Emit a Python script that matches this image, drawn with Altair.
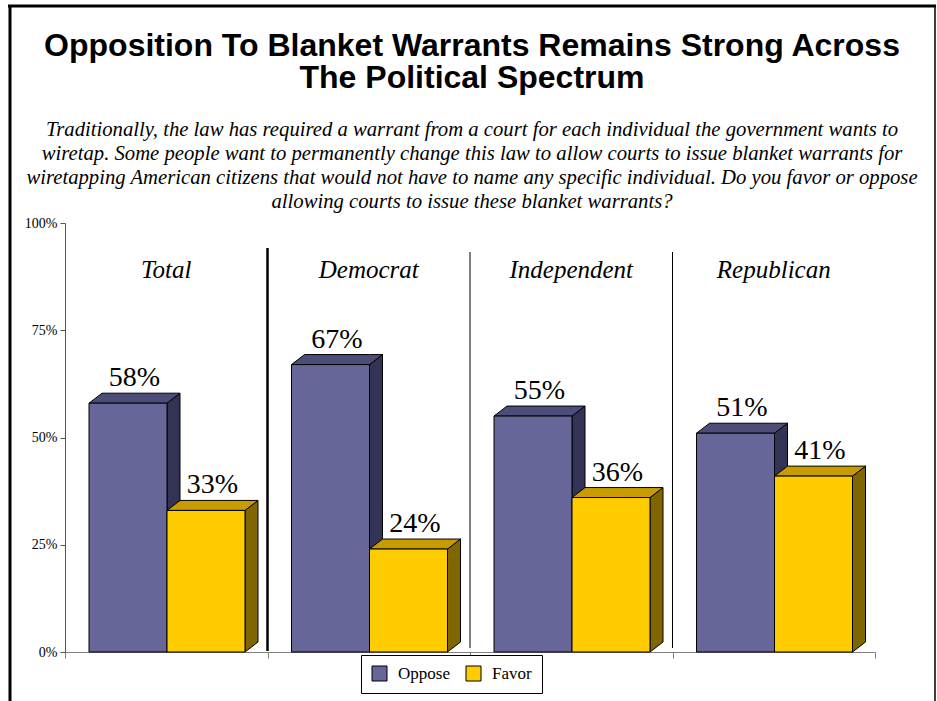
import altair as alt
import pandas as pd

# ---------------- data ----------------
groups = ["Total", "Democrat", "Independent", "Republican"]
oppose = [58, 67, 55, 51]
favor = [33, 24, 36, 41]
series = ["Oppose", "Favor"]
y_ticks = [0, 25, 50, 75, 100]
panel_edges = [0, 1, 2, 3, 4]

title_lines = [
    "Opposition To Blanket Warrants Remains Strong Across",
    "The Political Spectrum",
]
subtitle_lines = [
    "Traditionally, the law has required a warrant from a court for each individual the government wants to",
    "wiretap.  Some people want to permanently change this law to allow courts to issue blanket warrants for",
    "wiretapping American citizens that would not have to name any specific individual.  Do you favor or oppose",
    "allowing courts to issue these blanket warrants?",
]

# ---------------- geometry / style ----------------
W, H = 810, 429
UX = W / 4.0          # px per panel unit
UY = H / 100.0        # px per percent
BAR_OFF = 24 / UX
BAR_W = 78 / UX
DX = 13 / UX
DY = 10 / UY

front_col = {"Oppose": "#666699", "Favor": "#FFCC00"}
top_col = {"Oppose": "#4D4D7A", "Favor": "#C89B00"}
side_col = {"Oppose": "#333355", "Favor": "#806600"}

fronts, tops, sides, vlabels = [], [], [], []
for i, g in enumerate(groups):
    for j, (s, vals) in enumerate(zip(series, [oppose, favor])):
        v = vals[i]
        x0 = i + BAR_OFF + j * BAR_W
        x1 = x0 + BAR_W
        key = f"{g}-{s}"
        fronts.append(dict(group=g, series=s, x0=x0, x1=x1, v=v, zero=0))
        for x, lo, hi in [(x0, v, v), (x0 + DX, v, v + DY), (x1, v, v + DY), (x1 + DX, v + DY, v + DY)]:
            tops.append(dict(id=key, x=x, lo=lo, hi=hi, c=top_col[s]))
        for x, lo, hi in [(x1, 0, v), (x1 + DX, DY, v + DY)]:
            sides.append(dict(id=key, x=x, lo=lo, hi=hi, c=side_col[s]))
        vlabels.append(dict(x=x0 + (BAR_W + DX) / 2, y=v + DY, t=f"{v}%"))

df_front = pd.DataFrame(fronts)
df_top = pd.DataFrame(tops)
df_side = pd.DataFrame(sides)
df_vlab = pd.DataFrame(vlabels)
df_cat = pd.DataFrame({"group": groups, "xc": [i + 0.5 for i in range(len(groups))]})
df_sep = pd.DataFrame({"x": panel_edges[1:-1]})
one = pd.DataFrame({"k": [0]})

xs = alt.Scale(domain=[0, 4], nice=False, zero=False)
ys = alt.Scale(domain=[0, 100], nice=False)

SERIF = "Liberation Serif"

X_AX = alt.Axis(values=panel_edges, labels=False, tickSize=6, domainColor="#808080",
                tickColor="#808080", grid=False, title=None)
Y_AX = alt.Axis(values=y_ticks, labelExpr="datum.value + '%'", tickSize=5,
                domainColor="#555555", tickColor="#555555", grid=False, title=None,
                labelFont=SERIF, labelFontSize=14, labelColor="black", labelPadding=3)


def X(field):
    return alt.X(field, scale=xs, axis=X_AX)


def Y(field):
    return alt.Y(field, scale=ys, axis=Y_AX, stack=None)


fronts_layer = alt.Chart(df_front).mark_bar(stroke="black", strokeWidth=1).encode(
    x=X("x0:Q"),
    x2="x1:Q",
    y=Y("v:Q"),
    y2="zero:Q",
    color=alt.Color("series:N", scale=alt.Scale(domain=series, range=[front_col[s] for s in series]),
                    legend=alt.Legend(orient="none", legendX=296, legendY=432, direction="horizontal",
                                      title=None, strokeColor="black", fillColor="white", padding=10,
                                      symbolType="square", symbolSize=225, symbolStrokeColor="black",
                                      symbolStrokeWidth=1, symbolOpacity=1, labelFont=SERIF,
                                      labelFontSize=17, labelColor="black", labelOffset=10,
                                      columnPadding=14)),
)


def faces(df):
    return alt.Chart(df).mark_area(stroke="black", strokeWidth=1, orient="vertical",
                                   interpolate="linear").encode(
        x=X("x:Q"),
        y=Y("hi:Q"),
        y2="lo:Q",
        detail="id:N",
        fill=alt.Fill("c:N", scale=None),
    )


side_layer = faces(df_side)
top_layer = faces(df_top)

value_text = alt.Chart(df_vlab).mark_text(font=SERIF, fontSize=28, baseline="alphabetic",
                                          dy=-7, color="black").encode(
    x=X("x:Q"),
    y=Y("y:Q"),
    text="t:N",
)

cat_text = alt.Chart(df_cat).mark_text(font=SERIF, fontSize=25, fontStyle="italic",
                                       baseline="middle", color="black").encode(
    x=X("xc:Q"),
    y=alt.value(47),
    text="group:N",
)

sep_thick = alt.Chart(df_sep).transform_filter("datum.x == 1").mark_rule(
    color="black", strokeWidth=2.5).encode(
    x=X("x:Q"), y=alt.value(25), y2=alt.value(428))
sep_thin = alt.Chart(df_sep).transform_filter("datum.x != 1").mark_rule(
    color="black", strokeWidth=1).encode(
    x=X("x:Q"), y=alt.value(29), y2=alt.value(425))

title_text = alt.Chart(one).mark_text(
    text=title_lines, font="Liberation Sans", fontSize=32, fontWeight="bold", color="black",
    lineHeight=32, align="center", baseline="alphabetic",
).encode(x=alt.value(407), y=alt.value(-167))

subtitle_text = alt.Chart(one).mark_text(
    text=subtitle_lines, font=SERIF, fontSize=20.7, fontStyle="italic", color="black",
    lineHeight=24, align="center", baseline="alphabetic",
).encode(x=alt.value(407), y=alt.value(-87))

frame_top = alt.Chart(one).mark_rule(color="black", strokeWidth=3).encode(
    x=alt.value(-57), x2=alt.value(871), y=alt.value(-217))
frame_left = alt.Chart(one).mark_rule(color="black", strokeWidth=3).encode(
    x=alt.value(-55), y=alt.value(-218), y2=alt.value(480))
frame_right = alt.Chart(one).mark_rule(color="black", strokeWidth=1.5).encode(
    x=alt.value(870), y=alt.value(-218), y2=alt.value(480))

chart = alt.layer(
    sep_thick, sep_thin, side_layer, top_layer, fronts_layer, value_text, cat_text,
    title_text, subtitle_text, frame_top, frame_left, frame_right,
).properties(
    width=W, height=H,
    autosize=alt.AutoSizeParams(type="none"),
    padding={"left": 65, "top": 223, "right": 62, "bottom": 49},
).configure(
    background="white",
    view=alt.ViewConfig(strokeWidth=0, stroke="transparent"),
)

chart.save("out.html", embed_options={"renderer": "svg", "actions": False})
